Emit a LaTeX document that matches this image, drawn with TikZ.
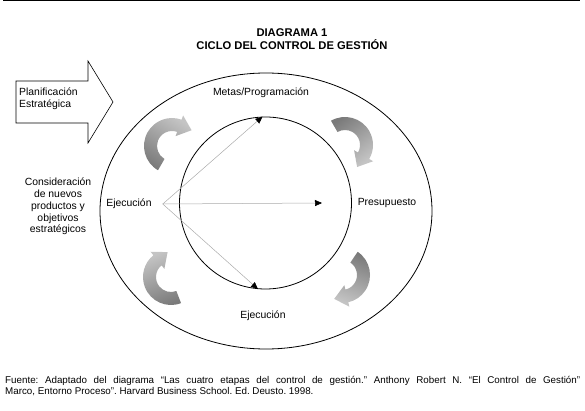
\documentclass[tikz,border=0pt]{standalone}
\usepackage{fontspec}
\setmainfont{Liberation Sans}
\usetikzlibrary{arrows.meta,calc,positioning,shapes.geometric}
\definecolor{ShadeDark}{HTML}{7A7A7A}
\definecolor{ShadeLight}{HTML}{C4C4C4}
\definecolor{LinkGray}{HTML}{ABABAB}

\begin{document}
\begin{tikzpicture}[
    x=1pt,y=1pt,
    font=\fontsize{10.4}{12}\selectfont,
    lbl/.style={inner sep=0pt,align=center},
    ring/.style={draw,line width=0.8pt,inner sep=0pt},
    link/.style={draw=LinkGray,line width=0.5pt,-{Triangle[length=7pt,width=6pt,color=black]}},
    pics/bend/.style n args={3}{code={
      \shade[bottom color=ShadeDark,top color=ShadeLight,shading angle=#3]
        (#1:28pt) arc[start angle=#1,end angle=#2,radius=28pt]
        -- (#2:32.5pt) -- ([shift={(#2:21.5pt)}]#2-90:13pt)
        -- (#2:10.5pt) -- (#2:15pt)
        arc[start angle=#2,end angle=#1,radius=15pt] -- cycle;
    }}
  ]
  \useasboundingbox (0,0) rectangle (585,-411);
  \draw[line width=1.4pt] (3,-0.7) -- (580,-0.7);

  % title
  \node[lbl,font=\fontsize{11.2}{12.5}\selectfont\bfseries] (title) at (292,-39) {DIAGRAMA 1\\CICLO DEL CONTROL DE GESTIÓN};

  % input arrow
  \draw[line width=0.6pt] (16,-81) -- (88,-81) -- (88,-61) -- (113,-102) -- (88,-143) -- (88,-123) -- (16,-123) -- cycle;
  \node[lbl,anchor=west,align=left] (planif) at (19,-99) {Planificación\\Estratégica};

  % rings
  \node[ring,ellipse,minimum width=332pt,minimum height=276pt] (outer) at (266,-211) {};
  \node[ring,circle,minimum size=172pt] (inner) at (265.5,-203) {};

  \node[lbl] (metas) at (261,-93) {Metas/Programación};
  \node[lbl] (presu) at (387,-203) {Presupuesto};
  \node[lbl] (ejb) at (263,-316) {Ejecución};
  \node[lbl] (ejl) at (129,-204) {Ejecución};
  \node[lbl,font=\fontsize{10.4}{11.8}\selectfont] (consid) at (58,-206.5) {Consideración\\de nuevos\\productos y\\objetivos\\estratégicos};

  % links
  \coordinate (fork) at ([xshift=11pt]ejl.east);
  \coordinate (mid) at ([xshift=56.5pt]inner.center);
  \draw[link] (fork) -- (inner.92);
  \draw[link] (fork) -- (mid);
  \draw[link] (fork) -- (inner.265);

  % cycle arrows
  \pic at (172,-146) {bend={240}{70}{-33}};
  \pic at (345,-145) {bend={120}{-30}{-143}};
  \pic at (342,-275) {bend={56}{-77}{159}};
  \pic at (171,-277) {bend={291}{129}{22}};

  % source
  \node[lbl,anchor=north west,align=left,font=\fontsize{9.8}{11}\selectfont\frenchspacing] (fuente) at (5,-376) {\makebox[575pt][s]{Fuente: Adaptado del diagrama “Las cuatro etapas del control de gestión.” Anthony Robert N. “El Control de Gestión”}\\Marco, Entorno Proceso”. Harvard Business School. Ed. Deusto. 1998.};
\end{tikzpicture}
\end{document}
